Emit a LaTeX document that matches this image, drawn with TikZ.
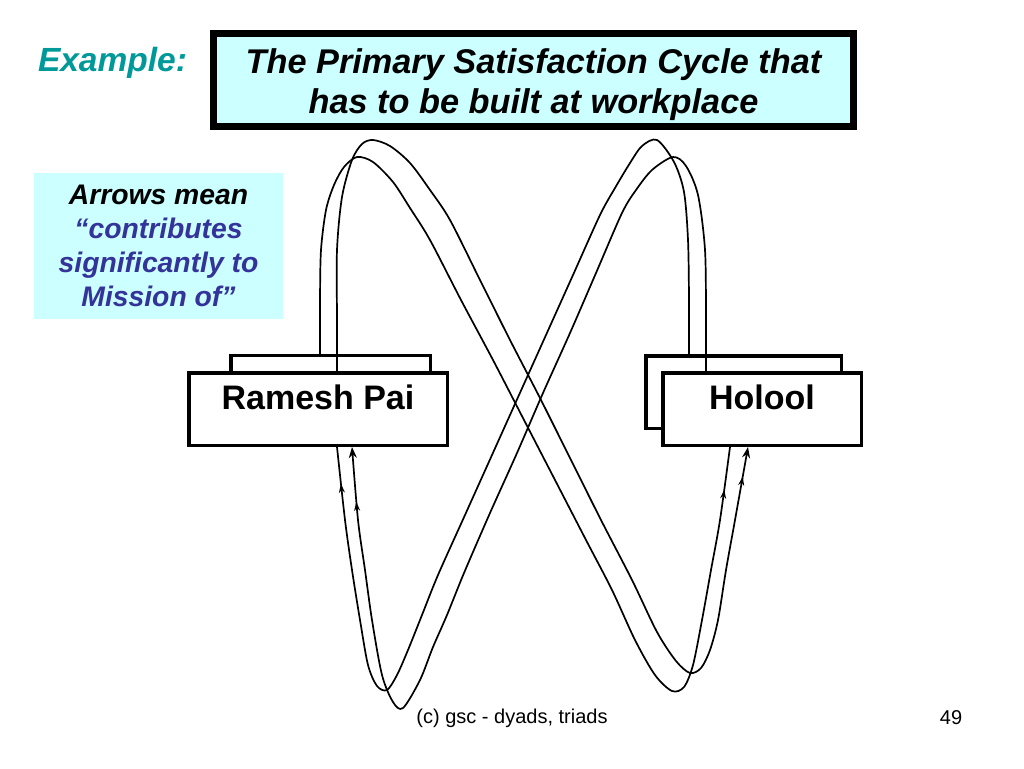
\documentclass[tikz,border=0pt]{standalone}
\usepackage{fontspec}
\setmainfont{Liberation Sans}
\usetikzlibrary{arrows.meta,decorations.markings}
\definecolor{paleCyan}{HTML}{CCFFFF}
\definecolor{tealA}{HTML}{009999}
\definecolor{navyA}{HTML}{333399}
\begin{document}
\begin{tikzpicture}[x=1pt,y=-1pt,
  box/.style={draw=black,line width=3.5pt,fill=white,inner sep=0pt,
    minimum height=72.5pt,text height=37pt,text depth=35.5pt,
    font=\bfseries\fontsize{34}{40}\selectfont},
  backbox/.style={draw=black,line width=3.5pt,fill=white,inner sep=0pt},
  loopline/.style={line width=1.7pt,smooth,tension=0.5},
  endtip/.style={-{Stealth[length=11pt,width=8pt]}},
  midtip/.style={postaction={decorate,decoration={markings,
    mark=at position #1 with {\arrow{Stealth[length=9pt,width=6pt]}}}}}]
\useasboundingbox[fill=white] (0,0) rectangle (1024,768);

% title and labels
\node[draw=black,line width=7pt,fill=paleCyan,minimum width=640pt,minimum height=93pt,
  align=center,inner sep=0pt,font=\bfseries\itshape\fontsize{34.3}{40}\selectfont]
  (title) at (533.5,80) {\rule{0pt}{35pt}The Primary Satisfaction Cycle that\\has to be built at workplace};
\node[text=tealA,font=\bfseries\itshape\fontsize{33.5}{40}\selectfont,inner sep=0pt]
  (example) at (112.5,63) {Example:};
\node[fill=paleCyan,minimum width=249pt,minimum height=146pt,align=center,inner sep=0pt,
  font=\bfseries\itshape\fontsize{28.3}{34}\selectfont]
  (legend) at (158.5,246) {Arrows mean\\\textcolor{navyA}{\textquotedblleft contributes}\\\textcolor{navyA}{significantly to}\\\textcolor{navyA}{Mission of\textquotedblright}};

% boxes
\node[backbox,minimum width=199.5pt,minimum height=75pt] (rback) at (330.5,393) {};
\node[backbox,minimum width=195.5pt,minimum height=72.5pt] (hback) at (743.5,392) {};
\node[box,minimum width=258.5pt] (rfront) at (318,409) {Ramesh Pai};
\node[box,minimum width=198.5pt] (hfront) at (762,409) {Holool};

% end points of the connectors
\coordinate (c1s) at (320,0 |- rback.north);
\coordinate (c1e) at (730,0 |- hfront.south);
\coordinate (c2s) at (337,0 |- rfront.north);
\coordinate (c2e) at (748,0 |- hfront.south);
\coordinate (c3s) at (689,0 |- hback.north);
\coordinate (c3e) at (337,0 |- rfront.south);
\coordinate (c4s) at (706,0 |- hfront.north);
\coordinate (c4e) at (352,0 |- rfront.south);

% cycle connectors
\draw[loopline,midtip=-43pt] plot coordinates {(c1s) (320,300) (321,250) (326,210) (334,185) (344,167) (357,157) (373,162) (393,182) (410,208) (430,240) (461,300) (493,360) (524,420) (555,480) (586,540) (612,590) (635,640) (655,675) (672,691) (684,687) (693,665) (702,620) (711,570) (720,520) (c1e)};
\draw[loopline,endtip,midtip=-30pt] plot coordinates {(c2s) (337,320) (337,250) (342,197) (352,160) (362,144) (373,140) (390,146) (410,163) (430,190) (450,220) (480,280) (510,340) (541,400) (571,460) (601,520) (632,580) (657,632) (676,661) (690,673) (701,668) (710,650) (718,620) (726,570) (735,520) (c2e)};
\draw[loopline,midtip=-37pt] plot coordinates {(c3s) (689,300) (688,240) (684,192) (674,162) (657,140) (642,146) (630,163) (615,188) (600,215) (573,275) (546,335) (519,395) (492,455) (465,515) (438,575) (422,615) (408,650) (397,675) (387,690) (377,686) (368,665) (360,620) (352,570) (345,520) (c3e)};
\draw[loopline,endtip,midtip=-55pt] plot coordinates {(c4s) (706,320) (705,250) (698,195) (686,166) (673,157) (652,170) (636,190) (622,213) (596,273) (570,333) (543,393) (517,453) (490,513) (464,573) (447,615) (433,647) (420,680) (403,708) (393,702) (382,675) (372,620) (365,570) (358,520) (c4e)};

% footer
\node[font=\fontsize{20}{24}\selectfont,inner sep=0pt] (footer) at (512,718) {(c) gsc - dyads, triads};
\node[font=\fontsize{20}{24}\selectfont,inner sep=0pt] (page) at (951,718) {49};
\end{tikzpicture}
\end{document}
